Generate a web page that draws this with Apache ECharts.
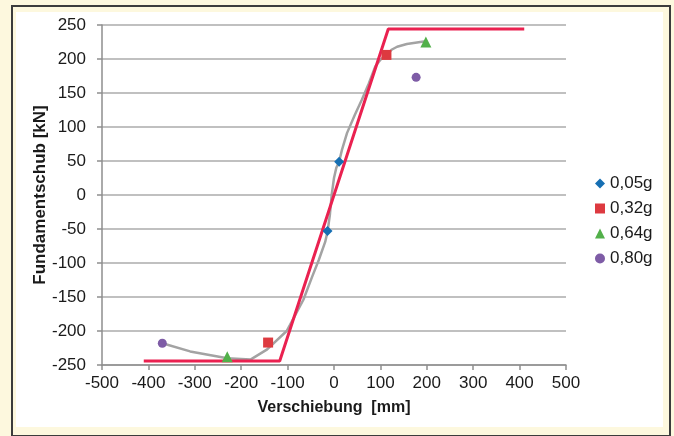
<!DOCTYPE html>
<html>
<head>
<meta charset="utf-8">
<script src="https://cdn.jsdelivr.net/npm/echarts@6/dist/echarts.min.js"></script>
<style>
  html, body { margin: 0; padding: 0; background: #fdf8de; }
  #frame { position: absolute; left: 11px; top: 5px; width: 656px; height: 428px; border: 2px solid #3c3c3c; }
  #panel { position: absolute; left: 16px; top: 12px; width: 647px; height: 415px; background: #ffffff; }
  #chart { position: absolute; left: 0; top: 0; width: 674px; height: 436px; }
</style>
</head>
<body>
<div id="frame"></div>
<div id="panel"></div>
<div id="chart"></div>
<script>
// measured curve (grey)
const curveX = [-370, -310, -230, -180, -144, -102, -87, -66, -47, -33, -19, -14, -9, -5, 0, 5, 11, 17, 28, 45, 60, 75, 89, 100, 113, 125, 136, 157, 186, 198];
const curveY = [-218, -230, -240, -242, -227, -200, -181, -154, -120, -96, -69, -54, -30, 0, 25, 40, 49, 66, 91, 118, 140, 164, 189, 199, 206, 214, 218, 222, 225, 226];

// bilinear limit line (red)
const limitX = [-410, -117, 117, 410];
const limitY = [-244, -244, 244, 244];

// marker series
const seriesNames = ['0,05g', '0,32g', '0,64g', '0,80g'];
const pointsX = [[11, -14], [113, -142], [198, -230], [177, -370]];
const pointsY = [[49, -53], [206, -217], [225, -238], [173, -218]];
const symbols = ['diamond', 'rect', 'triangle', 'circle'];
const colors = ['#166fb3', '#dd3a40', '#52b04a', '#7e5ca6'];
const sizes = [10, 10, 11, 9];

const font = "'Liberation Sans', Arial, sans-serif";
const gray = '#8e8e8e';

const zip = (xs, ys) => xs.map((x, i) => [x, ys[i]]);

const scatterSeries = seriesNames.map((name, i) => ({
    name: name,
    type: 'scatter',
    symbol: symbols[i],
    symbolSize: sizes[i],
    itemStyle: {color: colors[i], opacity: 1},
    z: 5,
    data: zip(pointsX[i], pointsY[i])
}));

const option = {
    animation: false,
    backgroundColor: 'transparent',
    textStyle: {fontFamily: font},
    grid: {left: 102, right: 108, top: 25, bottom: 71},
    legend: {
        orient: 'vertical',
        left: 590,
        top: 170,
        itemWidth: 10,
        itemHeight: 10,
        itemGap: 8,
        textStyle: {fontSize: 17, color: '#1a1a1a', fontFamily: font},
        data: seriesNames.map((n, i) => ({name: n, icon: symbols[i]}))
    },
    xAxis: {
        type: 'value',
        min: -500,
        max: 500,
        interval: 100,
        name: 'Verschiebung  [mm]',
        nameLocation: 'middle',
        nameGap: 35,
        nameMoveOverlap: false,
        nameTextStyle: {fontSize: 16, fontWeight: 'bold', color: '#1a1a1a', fontFamily: font},
        axisLine: {show: true, onZero: false, lineStyle: {color: gray, width: 1.5}},
        axisTick: {show: true, length: 5, lineStyle: {color: gray, width: 1.5}},
        axisLabel: {fontSize: 17, color: '#1a1a1a', margin: 10, fontFamily: font},
        splitLine: {show: false}
    },
    yAxis: {
        type: 'value',
        min: -250,
        max: 250,
        interval: 50,
        name: 'Fundamentschub [kN]',
        nameLocation: 'middle',
        nameGap: 53,
        nameMoveOverlap: false,
        nameTextStyle: {fontSize: 17, fontWeight: 'bold', color: '#1a1a1a', fontFamily: font},
        axisLine: {show: true, onZero: false, lineStyle: {color: gray, width: 1.5}},
        axisTick: {show: true, length: 5, lineStyle: {color: gray, width: 1.5}},
        axisLabel: {fontSize: 17, color: '#1a1a1a', margin: 16, fontFamily: font},
        splitLine: {show: true, lineStyle: {color: '#ababab', width: 1.5}}
    },
    series: [
        {
            name: 'Messung',
            type: 'line',
            showSymbol: false,
            symbol: 'none',
            lineStyle: {color: '#a3a3a3', width: 2.5},
            z: 2,
            data: zip(curveX, curveY)
        },
        {
            name: 'Bilinear',
            type: 'line',
            showSymbol: false,
            symbol: 'none',
            lineStyle: {color: '#ea2150', width: 3},
            z: 3,
            data: zip(limitX, limitY)
        }
    ].concat(scatterSeries)
};

const myChart = echarts.init(document.getElementById('chart'), null, {renderer: 'canvas'});
myChart.setOption(option);
</script>
</body>
</html>
